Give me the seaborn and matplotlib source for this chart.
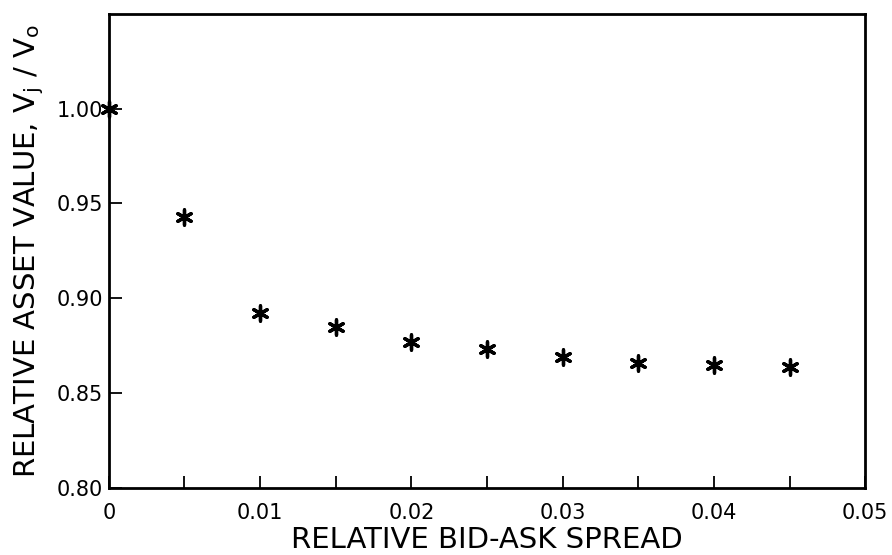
import numpy as np
import pandas as pd
import matplotlib
matplotlib.use("Agg")
import matplotlib.pyplot as plt
import seaborn as sns

spread = [0.0, 0.005, 0.01, 0.015, 0.02, 0.025, 0.03, 0.035, 0.04, 0.045]
value = [1.000, 0.943, 0.892, 0.885, 0.877, 0.873, 0.869, 0.866, 0.865, 0.864]

xticks = [0, 0.005, 0.01, 0.015, 0.02, 0.025, 0.03, 0.035, 0.04, 0.045, 0.05]
xticklabels = ["0", "", "0.01", "", "0.02", "", "0.03", "", "0.04", "", "0.05"]
yticks = [0.80, 0.85, 0.90, 0.95, 1.00]
yticklabels = ["0.80", "0.85", "0.90", "0.95", "1.00"]

df = pd.DataFrame({"spread": spread, "value": value})

sns.set_style("white")
plt.rcParams['font.family'] = ['DejaVu Sans']

fig = plt.figure(figsize=(8.92, 5.55), dpi=100)
ax = fig.add_axes([0.122, 0.121, 0.848, 0.854])

sns.scatterplot(data=df, x="spread", y="value", ax=ax, marker=(6, 2, 0),
                s=120, color="black", linewidth=2.4, edgecolor="black",
                clip_on=False)

ax.set_xlim(0, 0.05)
ax.set_ylim(0.80, 1.05)
ax.set_xticks(xticks)
ax.set_xticklabels(xticklabels)
ax.set_yticks(yticks)
ax.set_yticklabels(yticklabels)
ax.tick_params(direction="in", length=9, width=1.3, labelsize=15,
               colors="black", bottom=True, left=True)
ax.tick_params(axis="x", pad=11)
ax.tick_params(axis="y", pad=4)

for sp in ax.spines.values():
    sp.set_linewidth(2)
    sp.set_color("black")

ax.set_xlabel("RELATIVE BID-ASK SPREAD", fontsize=21, labelpad=2,
              color="black")
ax.set_ylabel("RELATIVE ASSET VALUE, V$_\\mathregular{j}$ / V$_\\mathregular{o}$",
              fontsize=21, labelpad=8, color="black")

fig.savefig("out.png", dpi=100)
